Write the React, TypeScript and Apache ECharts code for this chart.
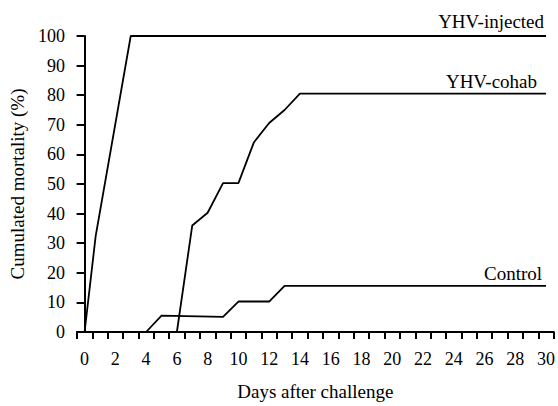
import React, { useEffect, useRef } from "react";
import * as echarts from "echarts";

const dayCategories: string[] = Array.from({ length: 31 }, (_, i) => String(i));

const injectedDays = [0, 0.72, 3, 30];
const injectedValues = [0, 32.4, 100, 100];

const cohabDays = [0, 6, 7, 8, 9, 10, 11, 12, 13, 14, 30];
const cohabValues = [0, 0, 36, 40.3, 50.3, 50.3, 64, 70.6, 75, 80.5, 80.5];

const controlDays = [0, 4, 5, 9, 10, 12, 13, 30];
const controlValues = [0, 0, 5.5, 5.1, 10.3, 10.3, 15.6, 15.6];

const seriesNames = ["YHV-injected", "YHV-cohab", "Control"];

const FONT = "'Liberation Serif', 'Times New Roman', serif";

const pairs = (days: number[], values: number[]) => days.map((d, i) => [d, values[i]]);

export default function App() {
  const ref = useRef<HTMLDivElement>(null);
  useEffect(() => {
    if (!ref.current) return;
    const chart = echarts.init(ref.current, null, { renderer: "svg" });
    const lineStyle = { color: "#000", width: 1.8 };
    const mk = (name: string, data: number[][], dx: number, dy: number) => ({
      type: "line",
      name,
      xAxisIndex: 0,
      showSymbol: false,
      symbol: "none",
      lineStyle,
      itemStyle: { color: "#000" },
      data,
      endLabel: {
        show: true,
        formatter: name,
        align: "right",
        verticalAlign: "bottom",
        distance: 0,
        offset: [dx, dy],
        color: "#000",
        fontFamily: FONT,
        fontSize: 19,
      },
    });
    chart.setOption({
      animation: false,
      backgroundColor: "#fff",
      grid: { left: 75.5, right: 3, top: 36, bottom: 73 },
      xAxis: [
        { type: "value", min: -0.5, max: 30.5, show: false },
        {
          type: "category",
          data: dayCategories,
          boundaryGap: true,
          position: "bottom",
          axisLine: { show: true, lineStyle: { color: "#000", width: 2 } },
          axisTick: { show: true, interval: 0, length: 7, lineStyle: { color: "#000", width: 2 } },
          axisLabel: { interval: 1, color: "#000", fontFamily: FONT, fontSize: 18, margin: 18 },
          splitLine: { show: false },
          name: "Days after challenge",
          nameLocation: "middle",
          nameGap: 50,
          nameTextStyle: { color: "#000", fontFamily: FONT, fontSize: 19 },
        },
      ],
      yAxis: {
        type: "value",
        min: 0,
        max: 100,
        interval: 10,
        axisLine: { show: true, lineStyle: { color: "#000", width: 2 } },
        axisTick: { show: true, length: 8, lineStyle: { color: "#000", width: 2 } },
        axisLabel: { color: "#000", fontFamily: FONT, fontSize: 18, margin: 12 },
        splitLine: { show: false },
        name: "Cumulated mortality (%)",
        nameLocation: "middle",
        nameGap: 47,
        nameTextStyle: { color: "#000", fontFamily: FONT, fontSize: 19 },
      },
      series: [
        mk(seriesNames[0], pairs(injectedDays, injectedValues), -2, -5),
        mk(seriesNames[1], pairs(cohabDays, cohabValues), -9, -3),
        mk(seriesNames[2], pairs(controlDays, controlValues), -4, -3),
      ],
    });
    return () => chart.dispose();
  }, []);
  return <div ref={ref} style={{ width: 558, height: 406, position: "absolute", left: 0, top: 0 }} />;
}
